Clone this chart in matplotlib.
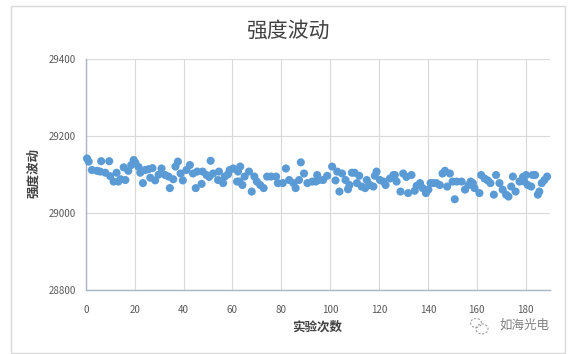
import matplotlib.pyplot as plt
from matplotlib.patches import Rectangle, Ellipse

plt.rcParams['font.family'] = ['Noto Sans CJK SC', 'DejaVu Sans']

# readings taken from the reference chart (experiment index, intensity)
runs = [0.5, 1.2, 2.5, 4.6, 6.3, 5.9, 8.0, 9.6, 10.0, 11.4, 12.6, 13.3, 14.2, 16.2,
        15.5, 17.4, 18.6, 19.6, 20.3, 21.6, 22.3, 23.4, 24.3, 25.6, 27.3, 26.4, 28.4, 29.8,
        31.0, 32.5, 33.9, 34.4, 35.8, 36.7, 37.7, 38.8, 39.7, 41.2, 42.6, 43.9, 45.0, 45.6,
        47.4, 47.8, 49.4, 50.5, 51.1, 52.1, 54.1, 54.5, 56.2, 56.9, 58.2, 58.9, 60.3, 61.9,
        62.3, 63.2, 62.8, 64.1, 65.0, 66.8, 67.9, 69.0, 70.0, 71.4, 72.8, 74.2, 75.8, 77.9,
        78.6, 80.6, 81.9, 83.2, 85.0, 85.9, 87.3, 88.0, 89.3, 90.7, 92.7, 94.1,
        94.7, 95.4, 97.1, 98.8, 100.8, 102.2, 102.9, 103.8, 104.9, 106.3, 107.3, 107.9, 108.9,
        110.0, 111.0, 111.9, 112.9, 114.3, 115.0, 116.3, 117.7, 118.3, 119.0, 120.4, 121.8,
        122.7, 124.5, 125.9,
        126.5, 127.2, 128.8, 129.9, 131.2, 131.9, 133.3, 134.6, 135.4, 136.8, 137.9, 139.2,
        140.2, 141.1, 142.2, 143.5, 144.9, 146.0, 147.0, 147.9, 149.0, 150.1, 151.0, 151.8,
        153.8, 155.2, 156.6, 157.5,
        158.4, 159.1, 161.1, 161.8, 163.2, 164.5, 165.6, 167.0, 167.9, 169.3, 170.6, 172.0,
        173.0, 174.1, 174.8, 175.9, 177.5, 178.9, 179.5, 180.2, 180.9, 182.3, 182.9, 183.9,
        185.0, 185.6, 186.6, 187.7, 188.8]
intensity = [29142, 29134, 29112, 29110, 29135, 29108, 29105, 29135, 29096, 29082, 29105,
             29082, 29088, 29086, 29119, 29110, 29125, 29138, 29131, 29120, 29105, 29078,
             29112, 29114, 29117, 29092, 29085, 29100,
             29116, 29099, 29095, 29065, 29088, 29121, 29134, 29103, 29085, 29112, 29125,
             29103, 29065, 29108, 29076, 29108, 29099, 29094, 29136, 29103, 29086, 29108,
             29078, 29095, 29101, 29112, 29116, 29082, 29108,
             29121, 29082, 29073, 29095, 29108, 29056, 29095, 29082, 29073, 29065, 29095,
             29095, 29095, 29078, 29078, 29116, 29086, 29078, 29065, 29086, 29132, 29103,
             29078, 29082, 29082,
             29099, 29086, 29086, 29097, 29121, 29085, 29108, 29056, 29103, 29086, 29062,
             29073, 29105, 29105, 29078, 29097, 29069, 29065, 29086, 29073, 29069, 29097,
             29108, 29086, 29082, 29073, 29090, 29099,
             29099, 29082, 29056, 29103, 29094, 29052, 29099, 29058, 29071, 29078, 29065,
             29052, 29061, 29078, 29078, 29078, 29073, 29103, 29110, 29069, 29103, 29082,
             29036, 29082, 29082, 29061, 29073, 29082,
             29078, 29065, 29052, 29099, 29090, 29085, 29078, 29048, 29099, 29078, 29061,
             29048, 29043, 29069, 29095, 29056, 29082, 29094, 29082, 29099, 29073, 29069,
             29099, 29099, 29048, 29056, 29078, 29086, 29095]

x_ticks = [0, 20, 40, 60, 80, 100, 120, 140, 160, 180]
y_ticks = [28800, 29000, 29200, 29400]

fig = plt.figure(figsize=(5.7, 3.54), dpi=100)
fig.patches.append(Rectangle((11 / 570, 1 / 354), 554 / 570, 347 / 354, transform=fig.transFigure,
                             fill=False, edgecolor='#d9d9d9', linewidth=1))

ax = fig.add_axes([0.1505, 0.1808, 0.8145, 0.6517])
ax.scatter(runs, intensity, s=34, color='#5b9bd5', edgecolors='none', zorder=3, clip_on=False)

ax.set_xlim(0, 190)
ax.set_ylim(28800, 29400)
ax.set_xticks(x_ticks)
ax.set_yticks(y_ticks)
ax.grid(True, color='#d9d9d9', linewidth=0.8)
ax.set_axisbelow(True)
ax.tick_params(length=0, labelsize=7, colors='#595959')
ax.tick_params(axis='x', pad=11)
ax.tick_params(axis='y', pad=7)
for side in ['top', 'right']:
    ax.spines[side].set_visible(False)
for side in ['left', 'bottom']:
    ax.spines[side].set_color('#abb4c4')
    ax.spines[side].set_linewidth(1)
    ax.spines[side].set_zorder(1)

fig.text(288 / 570, 1 - 31 / 354, '强度波动', ha='center', va='center', fontsize=15, color='#404040')
fig.text(317 / 570, 1 - 327 / 354, '实验次数', ha='center', va='center', fontsize=9,
         fontweight='bold', color='#404040')
fig.text(34 / 570, 1 - 173 / 354, '强度波动', ha='center', va='center', fontsize=9,
         fontweight='bold', color='#404040', rotation=90)

# watermark
fig.patches.append(Ellipse((476 / 570, 1 - 323 / 354), 11 / 570, 9 / 354, transform=fig.transFigure,
                           fill=False, edgecolor='#a0a0a0', linewidth=0.8, linestyle=(0, (2, 1.5))))
fig.patches.append(Ellipse((482 / 570, 1 - 329 / 354), 12 / 570, 10 / 354, transform=fig.transFigure,
                           fill=False, edgecolor='#a0a0a0', linewidth=0.8, linestyle=(0, (2, 1.5))))
fig.text(524 / 570, 1 - 325 / 354, '如海光电', ha='center', va='center', fontsize=9, color='#808080')

fig.savefig('out.png', dpi=100)
